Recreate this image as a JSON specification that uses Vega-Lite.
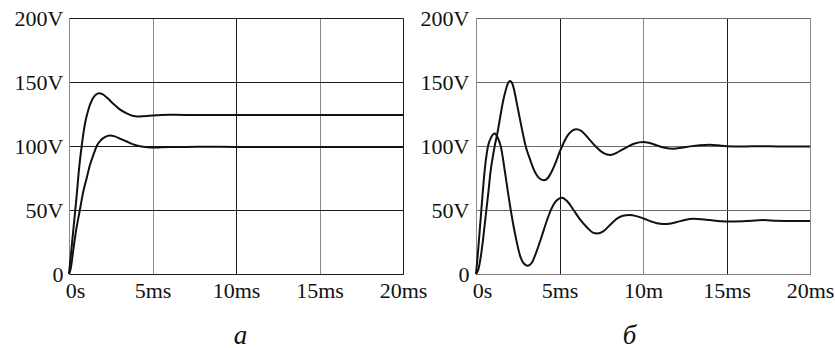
{
  "$schema": "https://vega.github.io/schema/vega-lite/v6.json",
  "autosize": {"type": "pad"},
  "padding": {"left": 14, "top": 7, "right": 0, "bottom": 0},
  "background": "white",
  "bounds": "flush",
  "spacing": 73,
  "config": {
    "view": {"stroke": null},
    "font": "Liberation Serif",
    "axis": {
      "labelFont": "Liberation Serif",
      "labelFontSize": 22,
      "labelColor": "#111111",
      "ticks": false,
      "grid": true,
      "gridWidth": 1,
      "domainWidth": 1,
      "labelFlush": false,
      "labelOverlap": false,
      "titleFont": "Liberation Serif",
      "titleFontStyle": "italic",
      "titleFontWeight": "normal",
      "titleFontSize": 27,
      "titleColor": "#111111"
    }
  },
  "datasets": {
    "a": [
      {"s": 1, "t": 0, "v": 0}, {"s": 1, "t": 0.15, "v": 20}, {"s": 1, "t": 0.3, "v": 40}, {"s": 1, "t": 0.45, "v": 60},
      {"s": 1, "t": 0.6, "v": 82}, {"s": 1, "t": 0.76, "v": 100}, {"s": 1, "t": 0.95, "v": 117}, {"s": 1, "t": 1.15, "v": 128},
      {"s": 1, "t": 1.4, "v": 136.5}, {"s": 1, "t": 1.6, "v": 140}, {"s": 1, "t": 1.8, "v": 141.3}, {"s": 1, "t": 2.0, "v": 140.5},
      {"s": 1, "t": 2.3, "v": 137.5}, {"s": 1, "t": 2.65, "v": 133}, {"s": 1, "t": 3.0, "v": 129}, {"s": 1, "t": 3.45, "v": 125.5},
      {"s": 1, "t": 3.8, "v": 123.6}, {"s": 1, "t": 4.1, "v": 123}, {"s": 1, "t": 4.5, "v": 123.3}, {"s": 1, "t": 5.0, "v": 123.8},
      {"s": 1, "t": 5.5, "v": 124.3}, {"s": 1, "t": 6.0, "v": 124.4}, {"s": 1, "t": 7.0, "v": 124.3}, {"s": 1, "t": 8.0, "v": 124.2},
      {"s": 1, "t": 10, "v": 124.2}, {"s": 1, "t": 14, "v": 124.2}, {"s": 1, "t": 20, "v": 124.2},
      {"s": 2, "t": 0, "v": 0}, {"s": 2, "t": 0.1, "v": 4}, {"s": 2, "t": 0.25, "v": 18}, {"s": 2, "t": 0.4, "v": 32},
      {"s": 2, "t": 0.65, "v": 50}, {"s": 2, "t": 0.85, "v": 64}, {"s": 2, "t": 1.06, "v": 75}, {"s": 2, "t": 1.25, "v": 85},
      {"s": 2, "t": 1.46, "v": 93}, {"s": 2, "t": 1.66, "v": 100}, {"s": 2, "t": 1.9, "v": 104.5}, {"s": 2, "t": 2.15, "v": 107},
      {"s": 2, "t": 2.45, "v": 108.2}, {"s": 2, "t": 2.75, "v": 107.5}, {"s": 2, "t": 3.1, "v": 105.5}, {"s": 2, "t": 3.45, "v": 103.5},
      {"s": 2, "t": 3.85, "v": 101.3}, {"s": 2, "t": 4.25, "v": 99.8}, {"s": 2, "t": 4.7, "v": 99}, {"s": 2, "t": 5.05, "v": 98.8},
      {"s": 2, "t": 5.5, "v": 99}, {"s": 2, "t": 6.0, "v": 99.2}, {"s": 2, "t": 7.0, "v": 99.3}, {"s": 2, "t": 8.0, "v": 99.4},
      {"s": 2, "t": 10, "v": 99.3}, {"s": 2, "t": 15, "v": 99.3}, {"s": 2, "t": 20, "v": 99.3}
    ],
    "b": [
      {"s": 1, "t": 0, "v": 0}, {"s": 1, "t": 0.15, "v": 4}, {"s": 1, "t": 0.28, "v": 13}, {"s": 1, "t": 0.44, "v": 29},
      {"s": 1, "t": 0.62, "v": 50}, {"s": 1, "t": 0.75, "v": 65}, {"s": 1, "t": 0.88, "v": 81}, {"s": 1, "t": 1.0, "v": 91},
      {"s": 1, "t": 1.12, "v": 100}, {"s": 1, "t": 1.28, "v": 110}, {"s": 1, "t": 1.48, "v": 125}, {"s": 1, "t": 1.62, "v": 135},
      {"s": 1, "t": 1.78, "v": 143.6}, {"s": 1, "t": 1.9, "v": 148.5}, {"s": 1, "t": 2.02, "v": 150.8}, {"s": 1, "t": 2.15, "v": 149.5},
      {"s": 1, "t": 2.28, "v": 144}, {"s": 1, "t": 2.42, "v": 135}, {"s": 1, "t": 2.57, "v": 125}, {"s": 1, "t": 2.77, "v": 112},
      {"s": 1, "t": 2.97, "v": 100}, {"s": 1, "t": 3.25, "v": 89}, {"s": 1, "t": 3.45, "v": 82}, {"s": 1, "t": 3.65, "v": 77},
      {"s": 1, "t": 3.85, "v": 74.2}, {"s": 1, "t": 4.07, "v": 73.2}, {"s": 1, "t": 4.3, "v": 75}, {"s": 1, "t": 4.55, "v": 80.5},
      {"s": 1, "t": 4.8, "v": 88}, {"s": 1, "t": 5.0, "v": 95}, {"s": 1, "t": 5.25, "v": 102.5}, {"s": 1, "t": 5.45, "v": 107.5},
      {"s": 1, "t": 5.7, "v": 111.3}, {"s": 1, "t": 6.0, "v": 113}, {"s": 1, "t": 6.3, "v": 111.8}, {"s": 1, "t": 6.6, "v": 108},
      {"s": 1, "t": 6.84, "v": 104.4}, {"s": 1, "t": 7.2, "v": 99.2}, {"s": 1, "t": 7.64, "v": 94.5}, {"s": 1, "t": 8.04, "v": 93},
      {"s": 1, "t": 8.4, "v": 94.5}, {"s": 1, "t": 8.7, "v": 96.8}, {"s": 1, "t": 9.04, "v": 99.2}, {"s": 1, "t": 9.5, "v": 102},
      {"s": 1, "t": 10.03, "v": 103.2}, {"s": 1, "t": 10.4, "v": 102.3}, {"s": 1, "t": 10.83, "v": 100.5}, {"s": 1, "t": 11.3, "v": 98.6},
      {"s": 1, "t": 11.83, "v": 97.9}, {"s": 1, "t": 12.3, "v": 98.6}, {"s": 1, "t": 12.83, "v": 99.7}, {"s": 1, "t": 13.4, "v": 100.6},
      {"s": 1, "t": 14.0, "v": 101}, {"s": 1, "t": 14.5, "v": 100.5}, {"s": 1, "t": 15.0, "v": 99.8}, {"s": 1, "t": 16, "v": 99.6},
      {"s": 1, "t": 17, "v": 99.9}, {"s": 1, "t": 18, "v": 99.7}, {"s": 1, "t": 19, "v": 99.6}, {"s": 1, "t": 20, "v": 99.6},
      {"s": 2, "t": 0, "v": 0}, {"s": 2, "t": 0.1, "v": 14}, {"s": 2, "t": 0.18, "v": 27}, {"s": 2, "t": 0.32, "v": 50},
      {"s": 2, "t": 0.52, "v": 81}, {"s": 2, "t": 0.72, "v": 100}, {"s": 2, "t": 0.9, "v": 106.5}, {"s": 2, "t": 1.12, "v": 109.7},
      {"s": 2, "t": 1.3, "v": 106.5}, {"s": 2, "t": 1.48, "v": 100}, {"s": 2, "t": 1.72, "v": 81}, {"s": 2, "t": 1.9, "v": 65},
      {"s": 2, "t": 2.08, "v": 50}, {"s": 2, "t": 2.38, "v": 28.7}, {"s": 2, "t": 2.67, "v": 13}, {"s": 2, "t": 2.88, "v": 8},
      {"s": 2, "t": 3.1, "v": 6.5}, {"s": 2, "t": 3.35, "v": 9}, {"s": 2, "t": 3.65, "v": 18.5}, {"s": 2, "t": 3.95, "v": 30},
      {"s": 2, "t": 4.25, "v": 42}, {"s": 2, "t": 4.5, "v": 50.5}, {"s": 2, "t": 4.75, "v": 56.3}, {"s": 2, "t": 5.15, "v": 59.6},
      {"s": 2, "t": 5.45, "v": 57}, {"s": 2, "t": 5.84, "v": 50}, {"s": 2, "t": 6.24, "v": 42.5}, {"s": 2, "t": 6.64, "v": 36.5},
      {"s": 2, "t": 7.0, "v": 32.3}, {"s": 2, "t": 7.25, "v": 31.6}, {"s": 2, "t": 7.64, "v": 33.5}, {"s": 2, "t": 8.04, "v": 38.5},
      {"s": 2, "t": 8.44, "v": 43.3}, {"s": 2, "t": 8.8, "v": 45.5}, {"s": 2, "t": 9.19, "v": 46}, {"s": 2, "t": 9.6, "v": 45.2},
      {"s": 2, "t": 10.03, "v": 43.4}, {"s": 2, "t": 10.5, "v": 41}, {"s": 2, "t": 11.03, "v": 39.2}, {"s": 2, "t": 11.4, "v": 39},
      {"s": 2, "t": 12.03, "v": 40.6}, {"s": 2, "t": 12.5, "v": 42.2}, {"s": 2, "t": 13.02, "v": 43.1}, {"s": 2, "t": 13.5, "v": 42.8},
      {"s": 2, "t": 14.0, "v": 42.1}, {"s": 2, "t": 15.0, "v": 41.1}, {"s": 2, "t": 16.0, "v": 41.3}, {"s": 2, "t": 17.2, "v": 42.1},
      {"s": 2, "t": 18.0, "v": 41.6}, {"s": 2, "t": 19.0, "v": 41.4}, {"s": 2, "t": 20.0, "v": 41.4}
    ]
  },
  "hconcat": [
    {
      "width": 334,
      "height": 256,
      "data": {"name": "a"},
      "mark": {"type": "line", "interpolate": "monotone", "color": "#111111", "strokeWidth": 2},
      "encoding": {
        "x": {
          "field": "t", "type": "quantitative",
          "scale": {"domain": [0, 20], "nice": false, "zero": false},
          "axis": {
            "values": [0, 5, 10, 15, 20],
            "labelExpr": "datum.value == 0 ? '0s' : datum.value + 'ms'",
            "labelPadding": 6,
            "labelOffset": {"condition": {"test": "datum.value == 0", "value": 6}, "value": 0},
            "gridColor": {"condition": {"test": "datum.value == 10 || datum.value == 20", "value": "#1a1a1a"}, "value": "#8a8a8a"},
            "domainColor": "#1a1a1a",
            "title": "а",
            "titleX": 171,
            "titleY": 69,
            "titleAlign": "center",
            "titleBaseline": "alphabetic"
          }
        },
        "y": {
          "field": "v", "type": "quantitative",
          "scale": {"domain": [0, 200], "nice": false},
          "axis": {
            "values": [0, 50, 100, 150, 200],
            "labelExpr": "datum.value == 0 ? '0' : datum.value + 'V'",
            "labelPadding": 6,
            "gridColor": "#1a1a1a",
            "domainColor": "#8a8a8a",
            "title": null
          }
        },
        "detail": {"field": "s", "type": "nominal"}
      }
    },
    {
      "width": 334,
      "height": 256,
      "data": {"name": "b"},
      "mark": {"type": "line", "interpolate": "monotone", "color": "#111111", "strokeWidth": 2},
      "encoding": {
        "x": {
          "field": "t", "type": "quantitative",
          "scale": {"domain": [0, 20], "nice": false, "zero": false},
          "axis": {
            "values": [0, 5, 10, 15, 20],
            "labelExpr": "datum.value == 0 ? '0s' : datum.value == 10 ? '10m' : datum.value + 'ms'",
            "labelPadding": 6,
            "labelOffset": {"condition": {"test": "datum.value == 0", "value": 6}, "value": 0},
            "gridColor": {"condition": {"test": "datum.value == 5 || datum.value == 15", "value": "#1a1a1a"}, "value": "#8a8a8a"},
            "domainColor": "#808080",
            "title": "б",
            "titleX": 153,
            "titleY": 69,
            "titleAlign": "center",
            "titleBaseline": "alphabetic"
          }
        },
        "y": {
          "field": "v", "type": "quantitative",
          "scale": {"domain": [0, 200], "nice": false},
          "axis": {
            "values": [0, 50, 100, 150, 200],
            "labelExpr": "datum.value == 0 ? '0' : datum.value + 'V'",
            "labelPadding": 7,
            "gridColor": "#6a6a6a",
            "domainColor": "#8a8a8a",
            "title": null
          }
        },
        "detail": {"field": "s", "type": "nominal"}
      }
    }
  ]
}
